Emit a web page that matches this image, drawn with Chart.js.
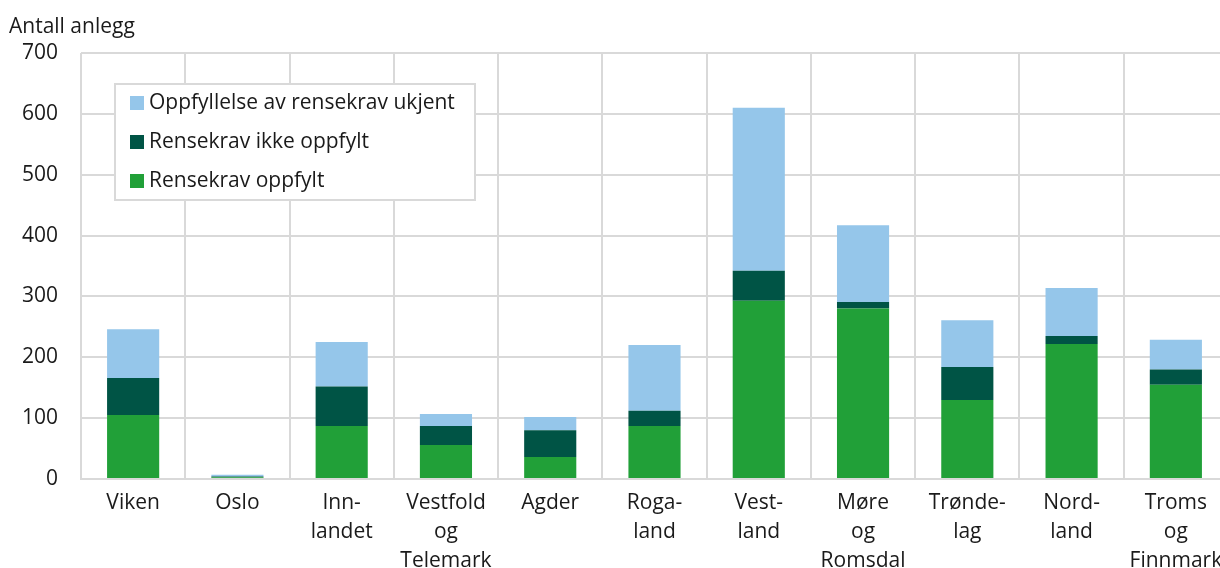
<!DOCTYPE html>
<html>
<head>
<meta charset="utf-8">
<script src="https://cdn.jsdelivr.net/npm/chart.js@4/dist/chart.umd.min.js"></script>
<style>
  html, body { margin: 0; padding: 0; background: #fff; overflow: hidden; }
  #wrap { position: absolute; left: 0; top: 0; width: 1240px; height: 568px; }
</style>
</head>
<body>
<div id="wrap"><canvas id="chart" width="1240" height="568"></canvas></div>
<script>
// --- Data ---
const regions = [
    'Viken', 'Oslo', ['Inn-', 'landet'], ['Vestfold', 'og', 'Telemark'], 'Agder',
    ['Roga-', 'land'], ['Vest-', 'land'], ['Møre', 'og', 'Romsdal'], ['Trønde-', 'lag'],
    ['Nord-', 'land'], ['Troms', 'og', 'Finnmark']
];
const oppfylt     = [105, 3, 87, 56, 36, 87, 293, 280, 130, 222, 155];
const ikkeOppfylt = [61, 1, 65, 31, 44, 25, 49, 11, 54, 13, 25];
const ukjent      = [80, 3, 73, 20, 22, 108, 268, 126, 77, 79, 49];
const yTicks = [0, 100, 200, 300, 400, 500, 600, 700];

const FONT = '"Open Sans", sans-serif';
const TEXT = '#1a1a1a';
const GRID = '#d9d9d9';

// Titre de l'axe Y + légende encadrée dans la zone du graphique
const extras = {
    id: 'extras',
    afterDraw(chart) {
        const ctx = chart.ctx;
        ctx.save();
        ctx.font = '21px ' + FONT;
        ctx.fillStyle = TEXT;
        ctx.textBaseline = 'middle';
        ctx.textAlign = 'left';
        ctx.fillText('Antall anlegg', 9, 27);

        // légende
        const x = 115, y = 84, w = 360, h = 116;
        ctx.fillStyle = '#fff';
        ctx.fillRect(x, y, w, h);
        ctx.strokeStyle = GRID;
        ctx.lineWidth = 2;
        ctx.strokeRect(x, y, w, h);
        const items = chart.data.datasets.slice().reverse();
        items.forEach((ds, i) => {
            const cy = y + 19 + i * 39;
            ctx.fillStyle = ds.backgroundColor;
            ctx.fillRect(x + 15, cy - 7, 14, 14);
            ctx.fillStyle = TEXT;
            ctx.fillText(ds.label, x + 34, cy);
        });
        ctx.restore();
    }
};

new Chart(document.getElementById('chart'), {
    type: 'bar',
    data: {
        labels: regions,
        datasets: [
            { label: 'Rensekrav oppfylt', data: oppfylt, backgroundColor: '#21a038' },
            { label: 'Rensekrav ikke oppfylt', data: ikkeOppfylt, backgroundColor: '#005445' },
            { label: 'Oppfyllelse av rensekrav ukjent', data: ukjent, backgroundColor: '#95c6ea' }
        ]
    },
    options: {
        responsive: false,
        animation: false,
        layout: { padding: { top: 53, right: 12, left: 0, bottom: 0 } },
        categoryPercentage: 1,
        barPercentage: 0.5,
        plugins: { legend: { display: false }, tooltip: { enabled: false } },
        scales: {
            x: {
                stacked: true,
                grid: { color: GRID, lineWidth: 2, drawTicks: false },
                border: { color: GRID, width: 2 },
                ticks: { color: TEXT, font: { family: FONT, size: 21, lineHeight: 1.38 }, padding: 10, maxRotation: 0, autoSkip: false },
                afterFit(scale) { scale.height = 89; }
            },
            y: {
                stacked: true,
                min: 0,
                max: 700,
                afterBuildTicks(scale) { scale.ticks = yTicks.map(v => ({ value: v })); },
                grid: { color: GRID, lineWidth: 2, drawTicks: false },
                border: { display: false },
                ticks: { color: TEXT, font: { family: FONT, size: 21 }, padding: 23 },
                afterFit(scale) { scale.width = 81; }
            }
        }
    },
    plugins: [extras]
});
</script>
</body>
</html>
